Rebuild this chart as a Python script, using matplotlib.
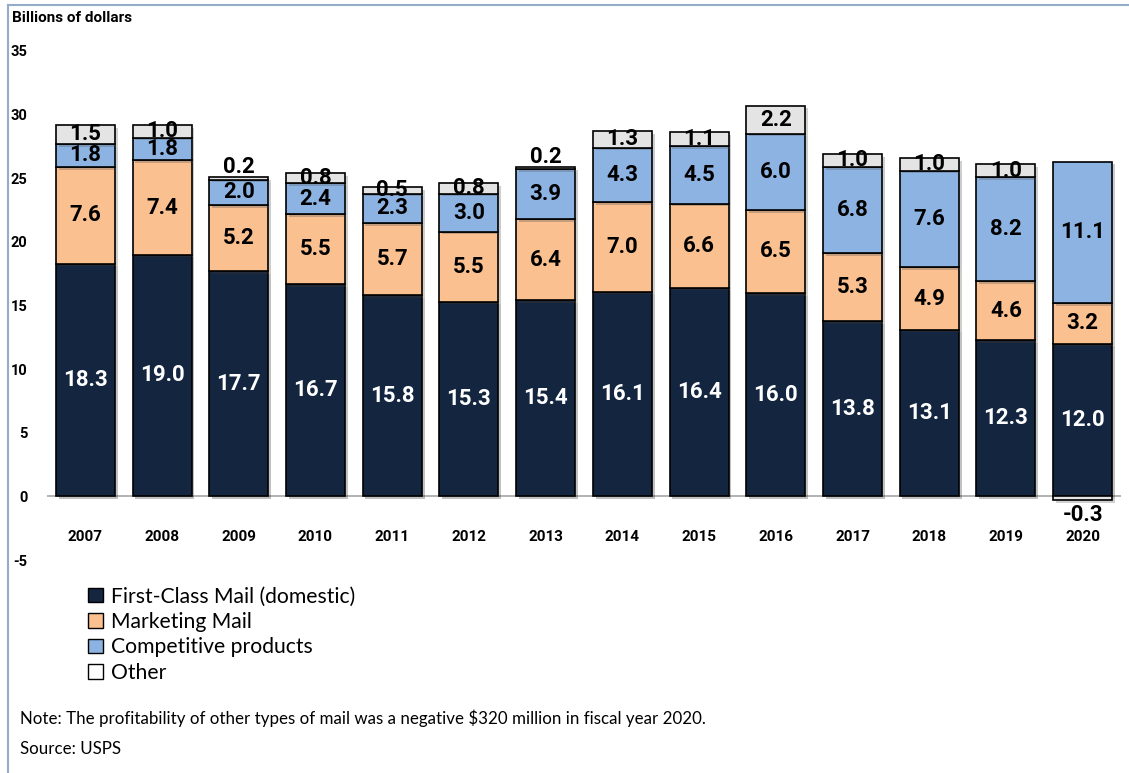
import matplotlib
matplotlib.use("Agg")
import matplotlib.pyplot as plt
import matplotlib.patheffects as pe
from matplotlib.lines import Line2D
from matplotlib.patches import Patch
import numpy as np

years = ["2007", "2008", "2009", "2010", "2011", "2012", "2013",
         "2014", "2015", "2016", "2017", "2018", "2019", "2020"]
first_class = [18.3, 19.0, 17.7, 16.7, 15.8, 15.3, 15.4, 16.1, 16.4, 16.0, 13.8, 13.1, 12.3, 12.0]
marketing = [7.6, 7.4, 5.2, 5.5, 5.7, 5.5, 6.4, 7.0, 6.6, 6.5, 5.3, 4.9, 4.6, 3.2]
competitive = [1.8, 1.8, 2.0, 2.4, 2.3, 3.0, 3.9, 4.3, 4.5, 6.0, 6.8, 7.6, 8.2, 11.1]
other = [1.5, 1.0, 0.2, 0.8, 0.5, 0.8, 0.2, 1.3, 1.1, 2.2, 1.0, 1.0, 1.0, -0.3]

series_names = ["First-Class Mail (domestic)", "Marketing Mail",
                "Competitive products", "Other"]
colors = ["#13253f", "#fac090", "#8db3e2", "#e4e4e4"]
y_ticks = [-5, 0, 5, 10, 15, 20, 25, 30, 35]

plt.rcParams["font.family"] = ["Lato", "DejaVu Sans"]
BOLD = ["Roboto", "DejaVu Sans"]

W, H = 1129, 773
fig = plt.figure(figsize=(W / 100, H / 100), dpi=100)
ax = fig.add_axes([47 / W, 1 - 560 / H, (1121 - 47) / W, (560 - 51) / H])

x = np.arange(len(years))
bw = 0.77
shadow = [pe.SimplePatchShadow(offset=(2, -2), alpha=0.25), pe.Normal()]

fc = np.array(first_class)
mk = np.array(marketing)
cp = np.array(competitive)
ot = np.array(other)

ax.axhline(0, color="#a6a6a6", lw=1.2, zorder=1)

b1 = ax.bar(x, fc, bw, color=colors[0], edgecolor="black", lw=1.2, zorder=2)
b2 = ax.bar(x, mk, bw, bottom=fc, color=colors[1], edgecolor="black", lw=1.2, zorder=2)
b3 = ax.bar(x, cp, bw, bottom=fc + mk, color=colors[2], edgecolor="black", lw=1.2, zorder=2)
ot_bottom = np.where(ot >= 0, fc + mk + cp, 0)
b4 = ax.bar(x, ot, bw, bottom=ot_bottom, color=colors[3], edgecolor="black", lw=1.2, zorder=2)
for bars in (b1, b2, b3, b4):
    for r in bars:
        r.set_path_effects(shadow)

lab_kw = dict(ha="center", va="center", fontsize=16, fontweight="bold",
              family=BOLD, zorder=5)
for i in x:
    ax.text(i, fc[i] / 2, f"{fc[i]:.1f}", color="white", **lab_kw)
    ax.text(i, fc[i] + mk[i] / 2, f"{mk[i]:.1f}", color="black", **lab_kw)
    ax.text(i, fc[i] + mk[i] + cp[i] / 2, f"{cp[i]:.1f}", color="black", **lab_kw)
    v = ot[i]
    if v < 0:
        ax.text(i, v - 1.2, f"{v:.1f}", color="black", **lab_kw)
    elif v < 0.4:
        ax.text(i, ot_bottom[i] + v + 0.75, f"{v:.1f}", color="black", **lab_kw)
    else:
        ax.text(i, ot_bottom[i] + v / 2, f"{v:.1f}", color="black", **lab_kw)

for s in ax.spines.values():
    s.set_visible(False)
ax.spines["bottom"].set_position(("data", 0))
ax.set_xlim(-0.5, len(years) - 0.5)
ax.set_ylim(-5, 35)
ax.set_yticks(y_ticks)
ax.set_yticklabels([str(t) for t in y_ticks], fontsize=10.5, fontweight="bold", family=BOLD)
ax.tick_params(axis="y", length=0, pad=14)
ax.set_xticks(x)
ax.set_xticklabels(years, fontsize=11, fontweight="bold", family=BOLD)
ax.tick_params(axis="x", length=0, pad=24)
ax.patch.set_visible(False)

fig.text(12 / W, 1 - 18 / H, "Billions of dollars", fontsize=11, fontweight="bold",
         family=BOLD, ha="left", va="center")

handles = [Patch(facecolor=c, edgecolor="black", lw=1.0) for c in colors]
handles[3] = Patch(facecolor="white", edgecolor="black", lw=1.0)
fig.legend(handles, series_names, loc="upper left", bbox_to_anchor=(80 / W, 1 - 578 / H),
           frameon=False, fontsize=15.2, handlelength=0.7, handleheight=0.7,
           handletextpad=0.35, labelspacing=0.26, borderaxespad=0)

fig.text(20 / W, 1 - 718 / H,
         "Note: The profitability of other types of mail was a negative $320 million in fiscal year 2020.",
         fontsize=12.2, ha="left", va="center")
fig.text(20 / W, 1 - 749 / H, "Source: USPS", fontsize=12.2, ha="left", va="center")

frame_col = "#95acc8"
fig.add_artist(Line2D([8 / W, 8 / W], [0, 1 - 5 / H], transform=fig.transFigure,
                      color=frame_col, lw=1.5))
fig.add_artist(Line2D([8 / W, 1], [1 - 5 / H, 1 - 5 / H], transform=fig.transFigure,
                      color=frame_col, lw=1.5))

fig.savefig("out.png", dpi=100)
